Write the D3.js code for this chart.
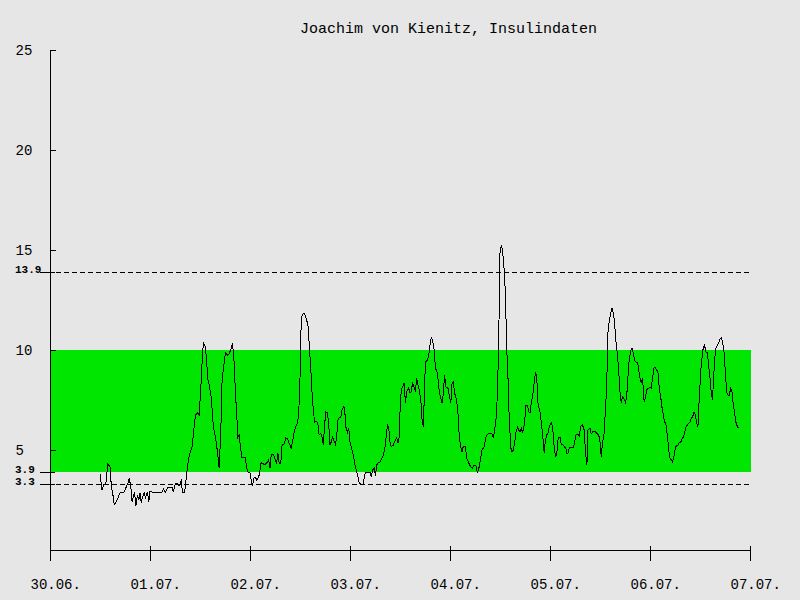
<!DOCTYPE html>
<html>
<head>
<meta charset="utf-8">
<script src="https://cdn.jsdelivr.net/npm/d3@7"></script>
<style>
  html, body { margin: 0; padding: 0; background: #e6e6e6; }
  svg { display: block; }
  text { font-family: "Liberation Mono", "DejaVu Sans Mono", monospace; fill: #000; }
</style>
</head>
<body>
<svg id="chart" width="800" height="600"></svg>
<script>
// ---- data ----
const title = "Joachim von Kienitz, Insulindaten";
const dayLabels = ["30.06.", "01.07.", "02.07.", "03.07.", "04.07.", "05.07.", "06.07.", "07.07."];
const dayTicks = [0, 24, 48, 72, 96, 120, 144, 168]; // hours since 30.06. 00:00
const yTicks = [5, 10, 15, 20, 25];
const targetRange = [3.9, 10];
const limitLines = [3.3, 13.9];
const limitVals = [13.9, 3.9, 3.3];
const limitLabels = ["13.9", "3.9", "3.3"];

// hours since 30.06. 00:00
const hours = [
  12.0,12.5,13.0,13.4,13.6,13.9,14.4,14.6,14.9,15.2,15.4,15.8,16.3,16.8,17.3,17.8,18.2,18.7,19.0,19.4,
  19.7,20.0,20.3,20.6,21.0,21.3,21.6,21.9,22.2,22.6,22.9,23.4,23.7,24.0,24.5,25.6,26.9,27.2,27.7,28.3,
  28.8,29.3,29.6,30.1,30.6,31.0,31.5,31.8,32.3,32.6,32.9,33.3,33.6,34.1,34.4,34.9,35.4,35.8,36.2,36.5,
  36.8,37.3,37.6,37.9,38.2,38.7,39.2,39.7,40.2,40.6,41.0,41.3,41.8,42.1,42.6,43.0,43.5,43.8,44.2,44.5,
  44.8,45.1,45.4,45.8,46.1,46.6,46.9,47.2,47.5,48.0,48.3,48.6,49.0,49.3,49.6,50.1,50.4,50.7,51.2,51.7,
  52.2,52.5,52.8,53.1,53.6,53.9,54.4,54.7,55.0,55.4,55.7,56.2,56.6,57.0,57.4,57.9,58.2,58.7,59.0,59.4,
  59.7,60.0,60.2,60.5,61.0,61.4,61.9,62.2,62.6,62.9,63.2,63.5,64.0,64.3,64.6,65.0,65.3,65.6,65.9,66.2,
  66.6,66.9,67.2,67.5,67.8,68.5,68.8,69.1,69.4,69.8,70.1,70.4,70.7,71.0,71.4,71.7,72.0,72.5,72.8,73.1,
  73.6,73.9,74.2,74.7,75.2,75.5,75.8,76.3,76.8,77.1,77.4,77.8,78.1,78.4,78.7,79.2,79.7,80.0,80.3,80.6,
  81.0,81.3,81.6,81.9,82.4,82.7,83.2,83.5,83.8,84.0,84.3,84.6,85.0,85.3,85.6,86.1,86.4,86.7,87.0,87.4,
  87.7,88.0,88.3,88.6,89.0,89.3,89.6,89.9,90.1,90.6,90.9,91.2,91.5,91.8,92.2,92.5,93.0,93.3,93.6,94.1,
  94.4,94.7,95.0,95.5,95.8,96.2,96.5,96.8,97.1,97.6,98.1,98.2,98.6,98.9,99.2,99.7,100.0,100.5,101.0,101.4,
  101.8,102.2,102.6,103.0,103.4,103.7,104.2,104.6,105.1,105.6,106.1,106.4,106.7,107.0,107.4,107.7,108.0,108.3,108.6,109.0,
  109.3,109.6,109.9,110.2,110.6,110.9,111.2,111.5,111.8,112.2,112.5,112.8,113.1,113.4,113.9,114.2,114.6,114.9,115.2,115.5,
  115.8,116.2,116.5,116.8,117.1,117.6,117.9,118.2,118.6,118.9,119.2,119.5,119.8,120.3,120.6,121.0,121.3,121.6,121.9,122.2,
  122.4,122.7,123.2,123.5,123.8,124.0,124.3,124.6,125.1,125.6,125.9,126.2,126.7,127.0,127.4,127.8,128.2,128.5,128.8,129.0,
  129.1,129.6,129.9,130.4,130.9,131.2,131.7,132.0,132.3,132.6,133.0,133.3,133.6,133.9,134.2,134.6,134.9,135.2,135.5,135.8,
  136.2,136.5,136.8,137.1,137.4,137.8,138.1,138.4,138.7,139.0,139.4,139.7,140.0,140.3,140.6,141.0,141.3,141.6,141.9,142.2,
  142.6,142.9,143.2,143.7,144.0,144.3,144.6,145.0,145.3,145.6,145.9,146.2,146.6,146.9,147.2,147.5,147.8,148.2,148.5,148.8,
  149.1,149.4,149.8,150.1,150.4,150.7,151.0,151.4,151.7,152.0,152.3,152.6,153.0,153.3,153.6,153.9,154.2,154.6,154.9,155.2,
  155.5,155.8,156.2,156.5,156.8,157.1,157.4,157.8,158.1,158.4,158.7,159.0,159.2,159.5,159.8,160.2,160.5,160.8,161.1,161.4,
  161.8,162.1,162.4,162.7,163.0,163.4,163.7,164.0,164.3,164.6,165.0,165.3
];
// blood glucose values (mmol/l)
const glucose = [
  3.8,3.0,3.3,3.3,3.75,4.3,4.15,3.5,2.95,2.65,2.25,2.4,2.6,2.85,2.9,2.9,3.1,3.35,3.6,3.15,
  2.4,2.65,2.9,2.2,2.75,2.5,2.85,2.35,2.65,2.85,2.6,2.9,2.4,2.95,2.9,2.9,2.9,3.05,2.9,3.15,
  3.15,3.15,2.9,3.35,3.35,3.2,3.45,2.9,2.9,3.4,4.0,4.6,4.85,5.15,5.75,6.75,6.85,6.75,8.1,9.35,
  10.35,10.15,9.4,8.5,8.25,7.65,6.15,5.65,4.9,4.1,6.0,8.5,9.35,9.85,9.75,9.8,10.1,10.35,9.35,7.85,
  6.85,5.65,5.75,5.0,4.6,4.65,4.6,4.1,3.9,3.85,3.5,3.2,3.65,3.65,3.5,3.65,4.0,4.4,4.3,4.3,
  4.4,4.5,4.1,4.8,4.8,4.6,4.35,4.85,4.35,4.35,5.25,5.3,5.6,5.55,5.35,5.1,5.4,6.0,6.2,6.35,
  6.85,8.6,10.85,11.75,11.85,11.65,11.25,10.35,9.0,7.85,7.0,6.4,6.45,6.3,5.75,5.85,5.65,5.25,6.25,6.9,
  6.85,6.25,5.25,5.4,5.65,5.3,5.65,6.5,6.6,6.65,7.0,7.15,7.1,6.15,5.9,6.1,5.4,5.0,4.75,4.35,
  3.9,3.65,3.35,3.3,3.3,3.75,3.9,3.9,3.9,3.65,4.0,4.1,3.7,4.25,4.35,4.4,4.6,4.75,5.0,5.5,
  6.25,6.1,5.4,5.15,5.25,5.4,5.6,5.35,5.65,6.9,8.0,8.15,8.35,7.35,7.9,8.1,7.85,7.9,8.35,8.15,
  7.9,8.6,8.25,8.0,7.5,6.5,6.15,8.15,9.4,9.5,9.75,10.25,10.6,10.5,10.0,9.1,8.85,8.15,7.75,7.35,
  7.85,8.75,8.15,8.1,7.75,7.35,8.35,8.4,7.85,7.5,6.4,5.65,5.15,4.9,5.2,5.15,4.6,4.35,4.15,4.1,
  4.25,4.25,3.85,4.15,4.65,5.0,5.15,5.65,5.8,5.85,5.8,5.6,6.0,6.4,7.85,10.65,14.85,15.25,15.0,14.0,
  12.85,10.15,8.75,6.65,5.1,4.9,5.0,5.35,5.85,6.15,6.0,5.9,6.1,5.85,6.35,7.25,7.25,6.9,6.85,7.35,
  7.65,8.35,8.85,8.75,7.35,6.9,6.4,5.85,4.85,5.5,5.75,5.85,6.15,6.35,6.2,5.15,4.7,4.75,5.5,5.65,
  5.65,5.3,5.25,5.15,5.1,4.85,4.85,5.1,5.15,5.15,5.35,5.75,5.8,5.7,6.2,6.25,6.0,5.0,4.25,4.65,
  6.0,6.1,5.8,5.95,5.9,5.85,5.75,5.4,4.65,5.35,5.85,7.0,8.15,10.85,11.4,11.85,12.1,11.85,11.35,10.5,
  9.75,8.9,7.9,7.35,7.65,7.55,7.4,7.65,8.65,9.5,10.0,10.1,9.85,9.5,9.4,9.4,9.0,8.6,8.35,8.6,
  7.4,7.65,8.0,8.1,8.15,8.1,8.6,9.15,9.1,9.0,8.9,8.15,7.6,7.1,6.75,6.4,6.35,5.65,5.0,4.6,
  4.5,4.4,4.75,5.1,5.25,5.25,5.35,5.4,5.55,5.65,5.85,6.15,6.25,6.35,6.4,6.6,6.65,6.9,6.75,6.35,
  6.15,7.5,9.0,9.65,10.15,10.25,9.9,9.85,9.15,8.6,7.85,7.5,8.35,9.5,10.1,10.25,10.35,10.55,10.6,10.4,
  9.85,8.85,7.9,7.75,7.75,8.1,7.9,7.25,6.85,6.4,6.15,6.15
];

// ---- drawing ----
(function () {
  const svg = d3.select("#chart");
  const W = 800, H = 600;
  const mLeft = 50, mRight = 750, mTop = 50, mBottom = 550;

  svg.append("rect").attr("width", W).attr("height", H).attr("fill", "#e6e6e6");

  const x = d3.scaleLinear().domain([0, 168]).range([mLeft, mRight]);
  const y = d3.scaleLinear().domain([0, 25]).range([mBottom, mTop]);

  // target band
  svg.append("rect")
    .attr("x", x(0) + 1)
    .attr("y", y(targetRange[1]))
    .attr("width", x(168) - x(0))
    .attr("height", y(targetRange[0]) - y(targetRange[1]))
    .attr("fill", "#00e600");

  // limit lines (dashed)
  svg.selectAll("line.limit").data(limitLines).enter().append("line")
    .attr("class", "limit")
    .attr("x1", x(0) - 10).attr("x2", x(168))
    .attr("y1", d => Math.round(y(d)) + 0.5).attr("y2", d => Math.round(y(d)) + 0.5)
    .attr("stroke", "#000").attr("stroke-width", 1)
    .attr("stroke-dasharray", "5,3")
    .attr("shape-rendering", "crispEdges");

  // x axis
  const xAxis = d3.axisBottom(x)
    .tickValues(dayTicks)
    .tickFormat((d, i) => dayLabels[i])
    .tickSizeInner(10).tickSizeOuter(0);
  const gx = svg.append("g").attr("transform", `translate(0,${mBottom + 0.5})`).call(xAxis);
  gx.select(".domain").remove();
  gx.selectAll(".tick line").attr("y1", -5).attr("y2", 10).attr("stroke", "#000")
    .attr("shape-rendering", "crispEdges");
  gx.selectAll(".tick text")
    .attr("font-family", "Liberation Mono, DejaVu Sans Mono, monospace")
    .attr("font-size", 14)
    .attr("text-anchor", "start")
    .attr("x", -20).attr("y", 38).attr("dy", null)
    .attr("fill", "#000");

  // y axis
  const yAxis = d3.axisLeft(y)
    .tickValues(yTicks)
    .tickFormat(d3.format("d"))
    .tickSizeInner(10).tickSizeOuter(0);
  const gy = svg.append("g").attr("transform", `translate(${mLeft + 0.5},0)`).call(yAxis);
  gy.select(".domain").remove();
  gy.selectAll(".tick line").attr("x2", 5).attr("stroke", "#000")
    .attr("shape-rendering", "crispEdges");
  gy.selectAll(".tick text")
    .attr("font-family", "Liberation Mono, DejaVu Sans Mono, monospace")
    .attr("font-size", 14)
    .attr("text-anchor", "start")
    .attr("x", -35).attr("y", 4).attr("dy", null)
    .attr("fill", "#000");

  // extra ticks & labels for limits (13.9, 3.9, 3.3)
  svg.selectAll("line.ltick").data(limitVals).enter().append("line")
    .attr("class", "ltick")
    .attr("x1", mLeft - 10).attr("x2", mLeft + 5)
    .attr("y1", d => Math.round(y(d)) + 0.5).attr("y2", d => Math.round(y(d)) + 0.5)
    .attr("stroke", "#000").attr("shape-rendering", "crispEdges");
  svg.selectAll("text.ltext").data(limitVals).enter().append("text")
    .attr("class", "ltext")
    .attr("x", 15)
    .attr("y", d => Math.round(y(d)) + 1)
    .attr("font-size", 11)
    .attr("font-weight", "bold")
    .text((d, i) => limitLabels[i]);

  // axis lines
  svg.append("line")
    .attr("x1", mLeft + 0.5).attr("x2", mLeft + 0.5)
    .attr("y1", y(25)).attr("y2", y(0) + 10)
    .attr("stroke", "#000").attr("shape-rendering", "crispEdges");
  svg.append("line")
    .attr("x1", x(0)).attr("x2", x(168))
    .attr("y1", mBottom + 0.5).attr("y2", mBottom + 0.5)
    .attr("stroke", "#000").attr("shape-rendering", "crispEdges");

  // glucose line
  const pts = hours.map((h, i) => [h, glucose[i]]);
  const line = d3.line().x(d => x(d[0])).y(d => y(d[1]));
  svg.append("path")
    .datum(pts)
    .attr("d", line)
    .attr("fill", "none")
    .attr("stroke", "#000")
    .attr("stroke-width", 1)
    .attr("shape-rendering", "crispEdges");

  // title
  svg.append("text")
    .attr("x", 300).attr("y", 33)
    .attr("font-size", 15)
    .text(title);
})();
</script>
</body>
</html>
